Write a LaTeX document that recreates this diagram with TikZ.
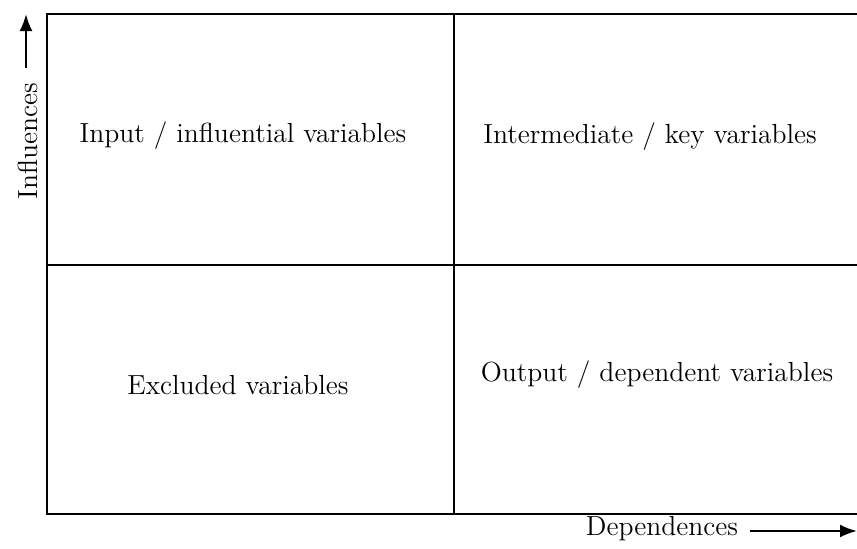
\documentclass[tikz,border=0pt]{standalone}
\usepackage{tikz}
\usetikzlibrary{arrows.meta}

\begin{document}
\begin{tikzpicture}[x=0.5pt,y=-0.5pt,font=\fontsize{13.8}{16}\selectfont]
    \useasboundingbox (0,0) rectangle (857,548);
    % frame and quadrants
    \draw[line width=1.2pt] (857,14) -- (47,14) -- (47,514) -- (857,514);
    \draw[line width=1.2pt] (454,14) -- (454,514);
    \draw[line width=1.2pt] (47,265) -- (857,265);

    \node (input) at (243,136) {Input / influential variables};
    \node (inter) at (650,137) {Intermediate / key variables};
    \node (excl) at (238,385) {Excluded variables};
    \node (output) at (657,375) {Output / dependent variables};

    % axes
    \node[rotate=90] (infl) at (28,141) {Influences};
    \coordinate (inflfoot) at (26,68);
    \coordinate (infltip) at (26,14);
    \draw[-{Latex[length=8.5pt,width=6.5pt]}, line width=1.2pt] (inflfoot) -- (infltip);

    \node (dep) at (662,529) {Dependences};
    \coordinate (depfoot) at (750,531);
    \coordinate (deptip) at (857,531);
    \draw[-{Latex[length=8.5pt,width=6.5pt]}, line width=1.2pt] (depfoot) -- (deptip);

\end{tikzpicture}
\end{document}
